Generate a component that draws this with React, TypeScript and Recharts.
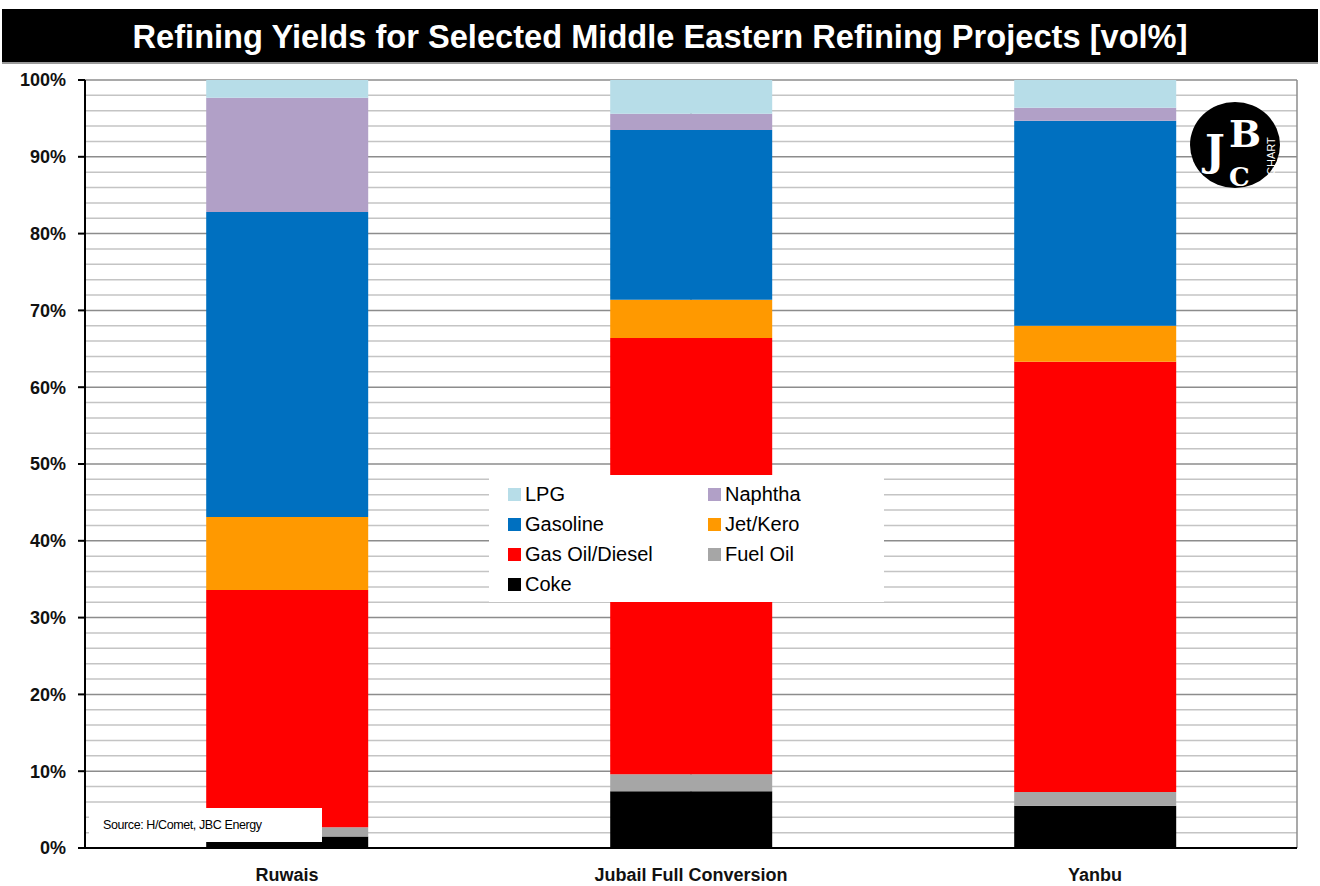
import { BarChart, Bar, XAxis, YAxis, CartesianGrid } from "recharts";

// Volumen-Anteile je Raffinerie (vol%), von unten nach oben gestapelt
const categories = ["Ruwais", "Jubail Full Conversion", "Yanbu"];
const coke = [1.5, 7.4, 5.5];
const fuelOil = [1.2, 2.2, 1.8];
const gasOil = [30.9, 56.8, 56.0];
const jetKero = [9.5, 5.0, 4.7];
const gasoline = [39.7, 22.1, 26.7];
const naphtha = [14.9, 2.1, 1.7];
const lpg = [2.3, 4.4, 3.6];

const yTicks = [0, 10, 20, 30, 40, 50, 60, 70, 80, 90, 100];
const minorTicks = [2, 4, 6, 8, 12, 14, 16, 18, 22, 24, 26, 28, 32, 34, 36, 38, 42, 44, 46, 48, 52, 54, 56, 58, 62, 64, 66, 68, 72, 74, 76, 78, 82, 84, 86, 88, 92, 94, 96, 98];
const boundaries = [1, 2, 3];

const SERIES = [
  { key: "coke", name: "Coke", color: "#000000" },
  { key: "fuelOil", name: "Fuel Oil", color: "#A6A6A6" },
  { key: "gasOil", name: "Gas Oil/Diesel", color: "#FF0000" },
  { key: "jetKero", name: "Jet/Kero", color: "#FF9900" },
  { key: "gasoline", name: "Gasoline", color: "#0070C0" },
  { key: "naphtha", name: "Naphtha", color: "#B1A0C7" },
  { key: "lpg", name: "LPG", color: "#B7DDE8" },
];

// Legend order as in the original (two columns)
const LEGEND_ORDER = ["lpg", "naphtha", "gasoline", "jetKero", "gasOil", "fuelOil", "coke"];

const data = categories.map((name, i) => ({
  name,
  coke: coke[i],
  fuelOil: fuelOil[i],
  gasOil: gasOil[i],
  jetKero: jetKero[i],
  gasoline: gasoline[i],
  naphtha: naphtha[i],
  lpg: lpg[i],
}));

const FONT = '"Liberation Sans", Arial, sans-serif';

function LegendBox() {
  return (
    <div
      style={{
        position: "absolute",
        left: 489,
        top: 475,
        background: "#fff",
        width: 395,
        height: 127,
        boxSizing: "border-box",
        padding: "4px 0 0 19px",
        display: "grid",
        gridTemplateColumns: "200px 180px",
        gridAutoRows: "30px",
        fontFamily: FONT,
        fontSize: 20,
        color: "#000",
      }}
    >
      {LEGEND_ORDER.map((k) => {
        const s = SERIES.find((x) => x.key === k)!;
        return (
          <div key={k} style={{ display: "flex", alignItems: "center" }}>
            <span style={{ width: 13, height: 13, background: s.color, marginRight: 4, display: "inline-block" }} />
            <span>{s.name}</span>
          </div>
        );
      })}
    </div>
  );
}

function Logo() {
  return (
    <svg width={100} height={100} style={{ position: "absolute", left: 1185, top: 95 }}>
      <ellipse cx={50} cy={50} rx={45} ry={43} fill="#000" />
      <text x={20} y={70} fill="#fff" fontFamily="DejaVu Serif" fontWeight="bold" fontSize={42}>J</text>
      <text x={44} y={52} fill="#fff" fontFamily="DejaVu Serif" fontWeight="bold" fontSize={38}>B</text>
      <text x={44} y={91} fill="#fff" fontFamily="DejaVu Serif" fontWeight="bold" fontSize={26}>C</text>
      <text transform="translate(90,80) rotate(-90)" fill="#fff" fontFamily={FONT} fontSize={11}>
        CHART
      </text>
    </svg>
  );
}

export default function App() {
  return (
    <div style={{ position: "absolute", left: 0, top: 0, width: 1320, height: 886, background: "#fff", fontFamily: FONT }}>
      <div style={{ position: "absolute", left: 2, top: 9, width: 1316, height: 53, background: "#000", borderBottom: "2px solid #9a9a9a" }}>
        <svg width={1316} height={53}>
          <text
            x={658}
            y={39}
            textAnchor="middle"
            fill="#fff"
            fontFamily={FONT}
            fontWeight="bold"
            fontSize={34}
            textLength={1055}
            lengthAdjust="spacingAndGlyphs"
          >
            Refining Yields for Selected Middle Eastern Refining Projects [vol%]
          </text>
        </svg>
      </div>

      <div style={{ position: "absolute", left: 0, top: 0 }}>
        <BarChart width={1320} height={886} data={data} margin={{ top: 80, right: 23, bottom: 8, left: 0 }} barCategoryGap="30%">
          <CartesianGrid xAxisId="grid" horizontalValues={minorTicks} vertical={false} stroke="#c4c4c4" strokeWidth={1.5} />
          <CartesianGrid xAxisId="grid" horizontalValues={yTicks} verticalValues={boundaries} stroke="#8c8c8c" strokeWidth={1.5} />
          <XAxis xAxisId="grid" type="number" domain={[0, 3]} ticks={[0, 1, 2, 3]} hide />
          <XAxis
            xAxisId="cat"
            dataKey="name"
            height={30}
            axisLine={{ stroke: "#000", strokeWidth: 2 }}
            tickLine={false}
            tick={{ fontSize: 18, fontWeight: "bold", fill: "#111", fontFamily: FONT }}
            tickMargin={14}
          />
          <YAxis
            width={85}
            domain={[0, 100]}
            ticks={yTicks}
            interval={0}
            tickFormatter={(v: number) => `${v}%`}
            axisLine={{ stroke: "#000", strokeWidth: 2 }}
            tickLine={{ stroke: "#000", strokeWidth: 2 }}
            tickSize={7}
            tickMargin={12}
            tick={{ fontSize: 18, fontWeight: "bold", fill: "#111", fontFamily: FONT }}
          />
          {SERIES.map((s) => (
            <Bar key={s.key} xAxisId="cat" dataKey={s.key} name={s.name} stackId="a" fill={s.color} isAnimationActive={false} />
          ))}
        </BarChart>
      </div>

      <LegendBox />

      <div
        style={{
          position: "absolute",
          left: 89,
          top: 808,
          width: 233,
          height: 34,
          background: "#fff",
          fontSize: 12.5,
          letterSpacing: -0.4,
          lineHeight: "34px",
          paddingLeft: 14,
          boxSizing: "border-box",
          color: "#000",
        }}
      >
        Source: H/Comet, JBC Energy
      </div>

      <Logo />
    </div>
  );
}
